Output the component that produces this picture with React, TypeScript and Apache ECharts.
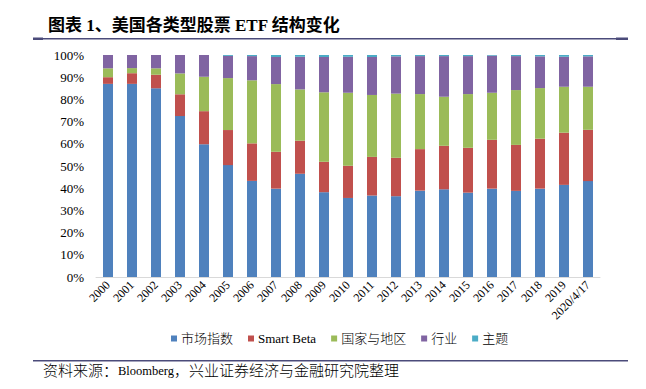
import React, { useEffect, useRef } from "react";
import * as echarts from "echarts";

const categories = [
  "2000", "2001", "2002", "2003", "2004", "2005", "2006", "2007", "2008", "2009", "2010",
  "2011", "2012", "2013", "2014", "2015", "2016", "2017", "2018", "2019", "2020/4/17",
];
const marketIndex = [87, 87, 85, 72.5, 59.8, 50.4, 43.3, 39.8, 46.5, 38.2, 35.6, 36.7, 36.4, 38.9, 39.5, 38.0, 39.8, 38.8, 39.8, 41.5, 43.2];
const smartBeta = [3, 4.8, 6.1, 9.8, 14.9, 15.8, 16.9, 16.6, 14.9, 13.7, 14.5, 17.4, 17.3, 18.7, 19.6, 20.2, 22.0, 20.7, 22.5, 23.5, 23.1];
const countryRegion = [4, 2.3, 2.9, 9.4, 15.5, 23.4, 28.4, 30.5, 23.1, 31.3, 32.9, 27.9, 28.9, 24.8, 22.1, 24.2, 21.2, 24.7, 22.8, 20.7, 19.4];
const industry = [6, 5.9, 6, 8.3, 9.8, 10.0, 10.9, 12.2, 14.7, 15.9, 16.2, 17.1, 16.8, 17.1, 18.3, 17.1, 16.7, 15.3, 14.3, 13.5, 13.7];
const theme = [0, 0, 0, 0, 0, 0.4, 0.5, 0.9, 0.8, 0.9, 0.8, 0.9, 0.6, 0.5, 0.5, 0.5, 0.3, 0.5, 0.6, 0.8, 0.6];

const seriesNames = ["市场指数", "Smart Beta", "国家与地区", "行业", "主题"];
const seriesColors = ["#4F81BD", "#C0504D", "#9BBB59", "#8064A2", "#4BACC6"];
const seriesData = [marketIndex, smartBeta, countryRegion, industry, theme];

const FONT = "'Liberation Serif', 'Noto Sans CJK SC', serif";
const LINE = "#4B4B7A";

export default function App() {
  const ref = useRef<HTMLDivElement>(null);
  useEffect(() => {
    if (!ref.current) return;
    const chart = echarts.init(ref.current, undefined, { renderer: "svg" });
    chart.setOption({
      animation: false,
      backgroundColor: "#ffffff",
      title: {
        text: "图表 1、美国各类型股票 ETF 结构变化",
        left: 43,
        top: 12,
        textStyle: { fontSize: 17, fontWeight: "bold", color: "#000", fontFamily: FONT },
      },
      grid: { left: 96, right: 46, top: 55, bottom: 112, containLabel: false },
      legend: {
        data: seriesNames,
        left: 166,
        top: 327,
        icon: "rect",
        itemWidth: 6,
        itemHeight: 6,
        itemGap: 15,
        textStyle: { fontSize: 13, fontWeight: 300, color: "#000", fontFamily: FONT, padding: [0, 0, 0, -1] },
      },
      xAxis: {
        type: "category",
        data: categories,
        axisLine: { lineStyle: { color: "#D9D9D9", width: 1 } },
        axisTick: { show: false },
        axisLabel: { rotate: 45, fontSize: 12, color: "#000", fontFamily: FONT, interval: 0, margin: 6 },
      },
      yAxis: {
        type: "value",
        min: 0,
        max: 100,
        interval: 10,
        axisLine: { show: false },
        axisTick: { show: false },
        splitLine: { show: false },
        axisLabel: { formatter: "{value}%", fontSize: 13, color: "#000", fontFamily: FONT, margin: 12 },
      },
      series: seriesNames.map((name, i) => ({
        name,
        type: "bar",
        stack: "total",
        barWidth: 10,
        data: seriesData[i],
        itemStyle: { color: seriesColors[i] },
      })),
      graphic: [
        { type: "rect", shape: { x: 33, y: 38, width: 595, height: 1.5 }, style: { fill: LINE } },
        { type: "rect", shape: { x: 33, y: 37.5, width: 10, height: 2.5 }, style: { fill: LINE } },
        { type: "rect", shape: { x: 616, y: 37.5, width: 12, height: 2.5 }, style: { fill: LINE } },
        { type: "rect", shape: { x: 33, y: 360, width: 595, height: 1.5 }, style: { fill: LINE } },
        {
          type: "text",
          x: 43,
          y: 371,
          style: {
            text: "{a|资料来源：}{b|Bloomberg}{a|，兴业证券经济与金融研究院整理}",
            rich: {
              a: { fontSize: 15, fontWeight: 300, fill: "#000", fontFamily: FONT },
              b: { fontSize: 12.5, fill: "#000", fontFamily: FONT },
            },
            fill: "#000",
            verticalAlign: "middle",
          },
        },
      ],
    });
    return () => chart.dispose();
  }, []);
  return <div ref={ref} style={{ position: "fixed", left: 0, top: 0, width: 646, height: 389 }} />;
}
